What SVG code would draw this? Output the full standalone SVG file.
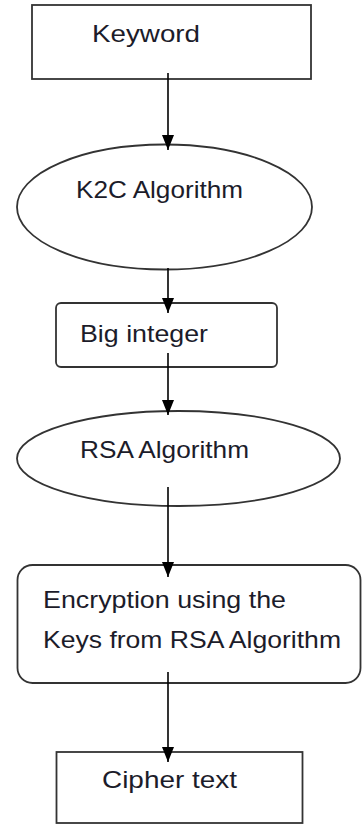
<svg xmlns="http://www.w3.org/2000/svg" width="363" height="826" viewBox="0 0 363 826">
<style>
.shape{fill:#fff;stroke:#333;stroke-width:1.8}
.lbl{font-family:"Liberation Sans","Open Sans",Arial,sans-serif;font-size:24px;fill:#1c1c2a}
.conn{stroke:#000;stroke-width:1.6;fill:none}
</style>
<defs>
<marker id="ah" markerUnits="userSpaceOnUse" viewBox="0 0 15 12" refX="15" refY="6" markerWidth="15" markerHeight="12" orient="auto">
<path d="M0,0 L15,6 L0,12 Z" fill="#000"/>
</marker>
</defs>
<rect width="363" height="826" fill="#fff"/>
<g id="keyword">
<rect class="shape" x="32" y="5" width="279" height="74"/>
<text class="lbl" x="92" y="42" textLength="108" lengthAdjust="spacingAndGlyphs">Keyword</text>
</g>
<g id="k2c">
<ellipse class="shape" cx="164.5" cy="207" rx="147.5" ry="62.5"/>
<text class="lbl" x="76" y="198" textLength="167" lengthAdjust="spacingAndGlyphs">K2C Algorithm</text>
</g>
<g id="biginteger">
<rect class="shape" x="56" y="303" width="221" height="64" rx="5"/>
<text class="lbl" x="80" y="342" textLength="128" lengthAdjust="spacingAndGlyphs">Big integer</text>
</g>
<g id="rsa">
<ellipse class="shape" cx="178.5" cy="458.5" rx="161.5" ry="47.5"/>
<text class="lbl" x="80" y="458" textLength="169" lengthAdjust="spacingAndGlyphs">RSA Algorithm</text>
</g>
<g id="encryption">
<rect class="shape" x="17.5" y="565" width="343" height="118" rx="15"/>
<text class="lbl" x="43" y="608" textLength="243" lengthAdjust="spacingAndGlyphs">Encryption using the</text>
<text class="lbl" x="43" y="648" textLength="298" lengthAdjust="spacingAndGlyphs">Keys from RSA Algorithm</text>
</g>
<g id="cipher">
<rect class="shape" x="56.5" y="752" width="246" height="71"/>
<text class="lbl" x="102" y="788" textLength="135" lengthAdjust="spacingAndGlyphs">Cipher text</text>
</g>
<g id="connectors">
<line class="conn" x1="168" y1="73" x2="168" y2="150" marker-end="url(#ah)"/>
<line class="conn" x1="168" y1="268" x2="168" y2="313" marker-end="url(#ah)"/>
<line class="conn" x1="168" y1="353" x2="168" y2="415" marker-end="url(#ah)"/>
<line class="conn" x1="168" y1="487" x2="168" y2="577" marker-end="url(#ah)"/>
<line class="conn" x1="168" y1="672" x2="168" y2="762" marker-end="url(#ah)"/>
</g>
</svg>
